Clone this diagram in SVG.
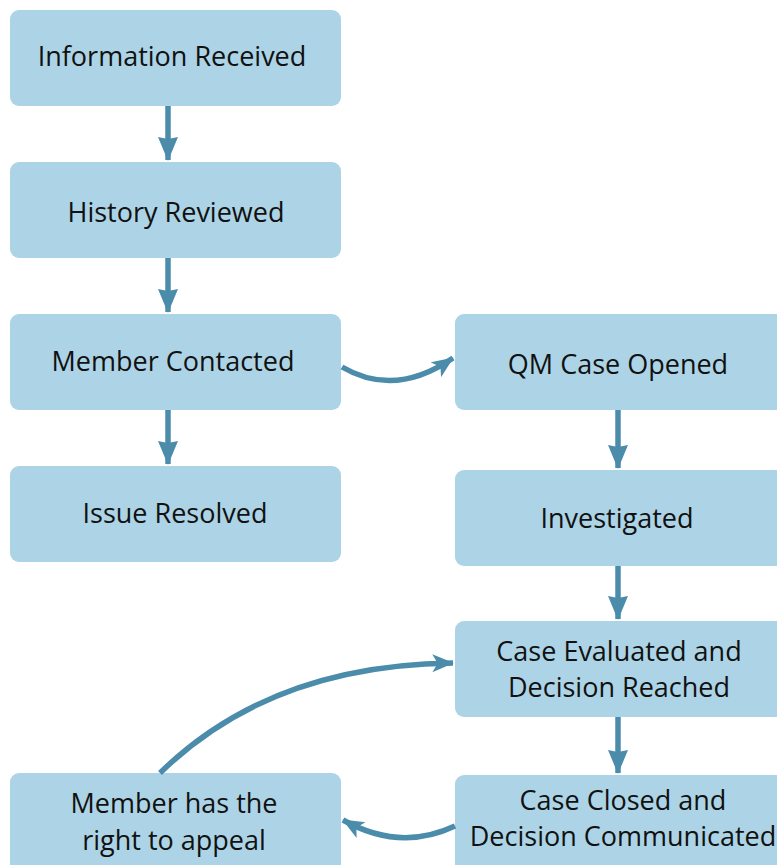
<svg xmlns="http://www.w3.org/2000/svg" width="777" height="865" viewBox="0 0 777 865">
<defs>
<style>
.box{fill:#acd4e6;}
.t{font-family:"Open Sans","Noto Sans",sans-serif;font-size:27px;fill:#111;text-anchor:middle;}
.c{fill:none;stroke:#4b8cab;stroke-width:5.5;}
</style>
<marker id="ah" markerWidth="24" markerHeight="20" viewBox="0 0 12 10" refX="11.5" refY="5" orient="auto" markerUnits="userSpaceOnUse">
<path d="M0,0 L12,5 L0,10 L1,5 Z" fill="#4b8cab"/>
</marker>
<marker id="ac" markerWidth="22" markerHeight="18" viewBox="0 0 12 10" refX="11.5" refY="5" orient="auto" markerUnits="userSpaceOnUse">
<path d="M0,0 L12,5 L0,10 L3,5 Z" fill="#4b8cab"/>
</marker>
</defs>
<rect width="777" height="865" fill="#fff"/>
<g id="n1"><rect class="box" x="10" y="10" width="331" height="96" rx="9"/><text class="t" x="172" y="66">Information Received</text></g>
<g id="n2"><rect class="box" x="10" y="162" width="331" height="96" rx="9"/><text class="t" x="176" y="222">History Reviewed</text></g>
<g id="n3"><rect class="box" x="10" y="314" width="331" height="96" rx="9"/><text class="t" x="173" y="371">Member Contacted</text></g>
<g id="n4"><rect class="box" x="10" y="466" width="331" height="96" rx="9"/><text class="t" x="175" y="523">Issue Resolved</text></g>
<g id="n5"><rect class="box" x="455" y="314" width="340" height="96" rx="9"/><text class="t" x="618" y="374">QM Case Opened</text></g>
<g id="n6"><rect class="box" x="455" y="470" width="340" height="96" rx="9"/><text class="t" x="617" y="528">Investigated</text></g>
<g id="n7"><rect class="box" x="455" y="621" width="340" height="96" rx="9"/><text class="t" x="619" y="661">Case Evaluated and</text><text class="t" x="619" y="697">Decision Reached</text></g>
<g id="n8"><rect class="box" x="455" y="775" width="340" height="110" rx="9"/><text class="t" x="623" y="810">Case Closed and</text><text class="t" x="623" y="846">Decision Communicated</text></g>
<g id="n9"><rect class="box" x="10" y="773" width="331" height="110" rx="9"/><text class="t" x="174" y="813">Member has the</text><text class="t" x="174" y="850">right to appeal</text></g>
<g id="connectors">
<path class="c" d="M168,106 V160" marker-end="url(#ah)"/>
<path class="c" d="M168,258 V312" marker-end="url(#ah)"/>
<path class="c" d="M168,410 V464" marker-end="url(#ah)"/>
<path class="c" d="M618,410 V468" marker-end="url(#ah)"/>
<path class="c" d="M618,566 V619" marker-end="url(#ah)"/>
<path class="c" d="M618,717 V773" marker-end="url(#ah)"/>
<path class="c" d="M342,367 Q395,398 453,358" marker-end="url(#ac)"/>
<path class="c" d="M160,773 Q270,665 453,663" marker-end="url(#ac)"/>
<path class="c" d="M455,826 Q400,852 343,820" marker-end="url(#ac)"/>
</g>
</svg>
